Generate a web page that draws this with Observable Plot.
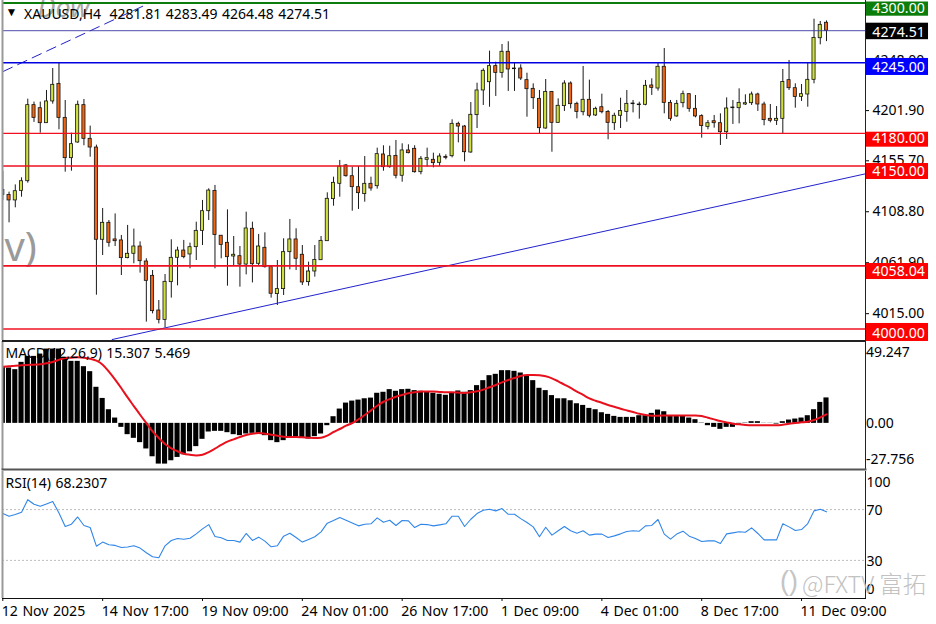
<!DOCTYPE html>
<html><head><meta charset="utf-8">
<script src="https://cdn.jsdelivr.net/npm/d3@7"></script>
<script src="https://cdn.jsdelivr.net/npm/@observablehq/plot@0.6"></script>
<style>
html,body{margin:0;padding:0;background:#fff;width:936px;height:624px;overflow:hidden}
#chart{position:relative;width:936px;height:624px;font-family:"Noto Sans",sans-serif}
#chart svg{position:absolute;left:0;background:transparent;max-width:none;word-spacing:0.8px}
#mark1{position:absolute;left:780px;top:563px;font-size:27px;color:#c4c4c4;line-height:36px;white-space:pre;font-family:"Liberation Sans",sans-serif}
#mark2{position:absolute;left:802px;top:565px;font-size:23.5px;color:#c2c2c2;line-height:36px;white-space:nowrap;font-family:"Noto Sans CJK SC","Noto Sans",sans-serif;font-weight:300}
</style></head><body><div id="chart"></div>
<script>
const open=[
4128.0,4123.4,4118.3,4127.1,4136.0,4206.0,4203.2,4189.4,4209.4,4225.6,
4194.3,4157.2,4171.6,4206.0,4175.0,4167.0,4082.1,4097.7,4082.4,4081.5,
4065.2,4069.2,4075.9,4062.1,4048.9,4017.0,4008.4,4043.1,4065.5,4072.2,
4068.6,4075.3,4090.3,4108.4,4127.1,4085.8,4079.3,4066.7,4067.0,4059.3,
4092.2,4060.0,4074.7,4056.9,4032.1,4036.7,4070.7,4082.4,4068.3,4043.1,
4052.9,4063.3,4080.8,4119.5,4133.6,4150.5,4140.6,4130.5,4124.1,4133.6,
4131.4,4160.6,4148.9,4159.3,4141.0,4164.3,4165.8,4144.3,4155.7,4155.7,
4152.9,4158.4,4159.0,4188.8,4186.3,4162.4,4196.8,4219.5,4227.1,4241.9,
4235.7,4255.1,4239.1,4239.7,4229.0,4221.0,4211.8,4184.5,4218.2,4189.7,
4205.1,4225.9,4207.2,4199.5,4210.9,4196.5,4204.1,4199.8,4189.4,4196.2,
4199.8,4206.9,4206.6,4206.3,4224.1,4221.3,4241.3,4208.1,4195.6,4207.8,
4216.1,4202.6,4195.9,4186.0,4191.2,4189.4,4181.1,4203.2,4203.2,4206.6,
4207.8,4215.8,4206.6,4193.4,4191.6,4193.4,4229.0,4221.6,4213.6,4215.8,
4229.3,4267.6,4281.81];
const close=[
4123.4,4118.3,4126.8,4136.0,4206.0,4194.3,4189.4,4209.4,4224.7,4194.3,
4157.2,4170.1,4206.3,4175.0,4167.0,4082.1,4097.7,4079.3,4080.8,4065.2,
4069.2,4075.9,4062.4,4044.3,4016.4,4008.4,4043.4,4065.5,4072.2,4066.1,
4075.3,4090.3,4108.4,4127.4,4086.4,4077.4,4066.1,4068.3,4059.3,4092.5,
4059.6,4075.9,4056.9,4032.4,4036.7,4070.7,4082.4,4064.6,4042.8,4052.9,
4063.6,4081.1,4119.8,4134.5,4149.5,4140.6,4130.5,4125.0,4133.6,4129.3,
4160.9,4148.9,4159.0,4141.0,4164.3,4161.8,4144.3,4156.6,4157.2,4152.6,
4158.7,4157.5,4188.8,4186.3,4162.7,4197.1,4219.5,4237.6,4241.9,4235.7,
4255.1,4238.8,4239.7,4230.5,4220.7,4212.4,4184.8,4218.2,4189.7,4205.4,
4225.9,4206.9,4199.8,4210.9,4196.2,4202.6,4199.5,4189.7,4196.2,4200.5,
4207.2,4207.5,4206.0,4223.8,4221.9,4241.3,4208.1,4193.4,4207.2,4216.1,
4202.6,4195.6,4186.7,4189.4,4189.4,4181.1,4202.9,4203.8,4208.1,4207.8,
4215.8,4206.6,4192.2,4191.6,4193.4,4227.4,4221.6,4213.6,4216.1,4229.3,
4267.9,4279.9,4274.51];
const high=[
4145.2,4125.9,4132.6,4139.1,4211.5,4208.8,4208.8,4219.5,4239.7,4244.9,
4210.3,4180.2,4209.7,4211.2,4186.7,4169.2,4110.9,4099.8,4105.9,4086.1,
4095.3,4091.9,4080.2,4064.6,4053.8,4026.2,4050.1,4082.1,4075.3,4081.5,
4079.0,4098.3,4118.3,4129.0,4132.1,4086.1,4109.6,4085.1,4075.9,4107.5,
4098.3,4087.0,4088.5,4057.8,4063.0,4083.0,4100.8,4092.2,4076.8,4061.5,
4076.8,4085.1,4125.3,4139.7,4155.1,4151.4,4148.9,4149.5,4158.7,4139.7,
4166.4,4168.6,4168.2,4173.5,4170.4,4169.5,4168.6,4158.7,4166.4,4161.8,
4161.2,4160.3,4192.5,4190.3,4187.3,4208.4,4226.2,4239.4,4255.7,4245.5,
4261.8,4264.3,4244.9,4243.1,4235.4,4225.6,4219.5,4229.6,4218.6,4211.8,
4228.4,4227.4,4208.7,4241.6,4229.0,4204.1,4216.1,4201.1,4198.6,4212.4,
4219.5,4210.3,4208.7,4228.7,4230.2,4244.6,4258.1,4210.3,4210.3,4218.9,
4216.4,4214.9,4197.1,4191.9,4196.5,4198.0,4212.7,4210.3,4221.0,4215.5,
4218.0,4217.0,4208.7,4206.6,4204.7,4238.8,4247.1,4225.6,4225.0,4244.6,
4285.1,4283.0,4283.49];
const low=[
4118.3,4097.7,4111.5,4121.3,4134.2,4190.1,4180.2,4189.4,4206.9,4183.3,
4144.3,4145.2,4171.0,4168.6,4158.1,4031.1,4067.6,4075.3,4075.9,4049.2,
4064.6,4060.0,4051.4,4006.3,4013.9,4004.7,4001.0,4028.4,4039.7,4064.6,
4055.4,4063.0,4076.8,4099.8,4055.4,4064.6,4039.4,4058.4,4038.5,4049.8,
4042.4,4058.4,4056.0,4028.4,4021.6,4030.8,4054.4,4053.8,4040.0,4039.4,
4047.7,4063.0,4080.8,4113.0,4121.3,4139.7,4108.4,4110.0,4116.7,4126.8,
4128.7,4145.2,4148.0,4138.2,4135.1,4161.2,4143.4,4141.9,4148.9,4148.3,
4149.5,4155.7,4157.5,4171.3,4153.8,4161.8,4184.5,4205.7,4204.1,4214.0,
4230.8,4218.6,4218.6,4228.7,4194.9,4202.0,4179.6,4183.9,4162.7,4189.4,
4200.2,4202.6,4193.4,4196.2,4194.3,4195.6,4198.0,4174.1,4182.7,4184.5,
4190.3,4198.9,4193.1,4205.4,4214.9,4218.9,4198.0,4191.2,4194.9,4203.5,
4199.5,4194.3,4175.6,4183.3,4184.8,4168.9,4174.4,4188.2,4188.8,4205.7,
4205.7,4200.2,4187.0,4189.7,4187.3,4179.6,4219.5,4203.2,4209.4,4204.1,
4225.6,4261.5,4264.48];
const macdHist=[
34.1,33.3,32.3,36.7,40.3,40.3,41.7,44.7,44.7,44.7,
39.7,37.3,37.3,34.1,31.1,21.7,15.0,8.2,3.2,-2.4,
-6.8,-9.0,-11.6,-15.4,-20.1,-24.5,-24.5,-22.5,-20.5,-18.9,
-17.1,-14.0,-9.6,-5.2,-4.8,-4.8,-5.6,-6.8,-7.4,-6.4,
-6.0,-6.0,-7.4,-10.4,-11.6,-10.4,-8.8,-8.0,-8.8,-9.4,
-8.0,-6.4,-1.4,4.0,8.6,12.2,13.4,14.0,14.8,15.2,
18.1,18.7,20.3,19.3,20.3,20.5,19.7,19.3,19.1,18.1,
17.5,16.9,18.1,19.5,18.7,19.7,22.7,25.7,28.7,29.5,
31.7,31.7,31.3,30.3,28.3,25.7,21.1,19.7,16.7,14.8,
14.8,13.6,11.8,10.8,9.0,8.2,6.4,5.4,4.2,3.6,
3.6,3.6,4.6,4.6,6.0,8.0,7.0,4.6,4.2,4.2,
3.2,2.2,0.2,-1.4,-2.4,-3.6,-2.4,-2.4,-0.4,0.2,
1.0,1.0,0.1,0.1,-0.4,1.0,2.0,2.6,3.2,4.6,
8.2,12.6,15.307];
const macdSignal=[
34.1,34.3,34.7,34.9,35.1,35.3,35.5,36.1,36.9,38.3,
39.3,39.5,39.7,39.5,38.9,37.7,35.3,31.1,26.3,21.1,
15.6,10.4,5.2,0.2,-4.8,-8.8,-12.4,-15.0,-16.8,-18.3,
-18.9,-19.3,-18.9,-17.3,-15.2,-13.0,-11.0,-9.6,-8.2,-7.0,
-6.2,-5.8,-6.2,-6.8,-7.4,-8.0,-8.2,-8.2,-8.4,-8.6,
-8.8,-8.6,-7.4,-5.2,-3.4,-1.4,0.2,2.4,5.0,7.8,
10.6,13.0,14.6,16.0,17.1,18.1,18.7,19.1,19.1,19.1,
18.9,18.7,18.7,18.5,18.3,18.7,19.3,20.3,21.7,23.1,
24.7,26.1,27.3,28.5,29.1,29.1,28.9,28.3,27.1,25.3,
23.3,21.3,19.1,17.1,15.0,13.6,12.4,11.0,10.0,8.8,
7.8,6.8,5.8,5.0,4.6,4.6,4.8,4.8,4.8,4.8,
4.8,4.8,4.4,3.4,2.4,1.4,0.6,-0.2,-0.6,-1.0,
-1.2,-1.2,-1.2,-1.2,-1.2,-0.8,-0.2,0.2,0.6,1.0,
2.0,3.6,5.469];
const rsi=[
66.9,64.8,66.1,67.9,77.8,74.2,72.6,74.4,76.3,67.4,
56.7,58.5,64.2,57.5,55.9,41.2,44.4,42.3,41.8,40.2,
40.5,41.5,39.7,36.0,32.9,32.1,41.5,45.7,47.3,46.7,
47.5,50.9,54.8,58.2,48.8,47.8,45.7,45.7,44.4,51.2,
45.7,48.3,45.2,40.7,41.5,49.1,51.4,48.0,44.4,46.5,
48.6,52.5,59.3,61.4,63.7,61.6,59.5,57.2,58.5,58.8,
63.5,60.1,61.6,57.5,61.4,61.1,55.9,58.5,58.2,57.2,
58.0,58.8,64.8,64.8,56.7,62.4,66.9,69.5,70.3,69.0,
70.8,66.3,66.3,62.9,59.8,56.4,48.6,56.1,49.9,53.3,
56.7,53.3,51.4,53.3,49.9,50.7,50.7,48.0,49.3,50.9,
52.7,53.3,53.0,57.2,57.5,62.2,50.7,46.7,50.7,53.0,
49.1,47.3,44.9,45.4,45.4,43.3,50.9,51.7,52.5,52.2,
55.6,51.2,46.2,46.2,46.2,58.8,56.4,53.5,54.3,59.0,
69.0,70.3,68.2307];
const priceTicks=[4248.0,4201.9,4155.7,4108.8,4061.9,4015.0];
const levelPrices=[4300,4274.51,4245,4180,4150,4058.04,4000];
const levelColors=["#0a7d0a","#000000","#0000ff","#ff0000","#ff0000","#ff0000","#ff0000"];
const trendBars=[17.53,138.25], trendPrices=[3990.3,4142.8];
const channelBars=[0.06,23.35], channelPrices=[4237,4299.5];
const timeTicks=[0,16,32,48,64,80,96,112,128];
const timeLabels=["12 Nov 2025","14 Nov 17:00","19 Nov 09:00","24 Nov 01:00","26 Nov 17:00","1 Dec 09:00","4 Dec 01:00","8 Dec 17:00","11 Dec 09:00"];
const macdTickLabels=["49.247","0.00","-27.756"];

const UP="#cfe03e", DOWN="#ee6614";
const FONT="'Noto Sans',sans-serif";
const idx=(d,i)=>i;
const candles=open.map((o,i)=>({i,o,c:close[i],h:high[i],l:low[i]}));
const base={width:936,marginLeft:2,marginRight:71,
  x:{type:"linear",domain:[-0.05,138.25],axis:null},
  style:{fontFamily:FONT,fontSize:"14px",color:"#000",background:"transparent"}};
const box={4300:[-1,13.2,5.8],4274.51:[-7.5,9,1.5],4245:[-4.3,12.7,5],4180:[-1.2,13.8,5.4],4150:[-2.5,13.5,5.5],4058.04:[-2.4,13.6,5.6],4000:[-5.5,12.5,4.8]};
const levelMarks=levelPrices.flatMap((p,k)=>{
  const [t,b,dy]=box[p];
  return [
    Plot.rect([p],{x1:()=>138.4,x2:()=>148.35,y1:d=>d,y2:d=>d,insetTop:t,insetBottom:-b,fill:levelColors[k],clip:false}),
    Plot.text([p],{x:()=>139.35,y:d=>d,dy,text:d=>d.toFixed(2),fill:"#fff",textAnchor:"start",fontSize:14.2})
  ];
});
const main=Plot.plot({...base,height:340,marginTop:0,marginBottom:0,
  y:{domain:[3989.4,4302.3],axis:null},
  color:{type:"identity"},
  marks:[
    Plot.axisY(priceTicks,{anchor:"right",tickSize:3,tickPadding:4,label:null,tickFormat:d=>d.toFixed(2),dy:1,fill:"#000"}),
    Plot.text(["Dow"],{frameAnchor:"top-left",dx:35,dy:-3,fontSize:27,fontStyle:"italic",fill:"#a8a8a8"}),
    Plot.text(["v)"],{frameAnchor:"top-left",dx:2,dy:232,fontSize:40,fill:"#9a9a9a"}),
    Plot.ruleX(candles,{x:"i",y1:"l",y2:"h",stroke:"#1a1a1a",strokeWidth:1,clip:true}),
    Plot.rect(candles,{x1:d=>d.i-.25,x2:d=>d.i+.25,y1:"o",y2:"c",fill:d=>d.c>=d.o?UP:DOWN,stroke:"#111",strokeWidth:.8,clip:true}),
    Plot.line(channelBars,{x:d=>d,y:(d,i)=>channelPrices[i],stroke:"#2020c8",strokeWidth:1,strokeDasharray:"10,6",clip:true}),
    Plot.line(trendBars,{x:d=>d,y:(d,i)=>trendPrices[i],stroke:"#2222cc",strokeWidth:1,clip:true}),
    Plot.ruleY([4274.51],{stroke:"#3a3aa6",strokeWidth:.9}),
    Plot.ruleY([4300],{stroke:"#0a7d0a",strokeWidth:2}),
    Plot.ruleY([4245],{stroke:"#0000e0",strokeWidth:1.3}),
    Plot.ruleY([4180,4000],{stroke:"#f01020",strokeWidth:1.3}),
    Plot.ruleY([4150,4058.04],{stroke:"#ee1020",strokeWidth:1.7}),
    Plot.ruleX([-0.05],{stroke:"#999",strokeWidth:2}),
    Plot.frame({anchor:"right",stroke:"#222"}),
    Plot.frame({anchor:"bottom",stroke:"#222"}),
    Plot.text(["▼"],{frameAnchor:"top-left",dx:3,dy:7,fontSize:12,fill:"#000"}),
    Plot.text(["XAUUSD,H4"],{frameAnchor:"top-left",dx:21.5,dy:9,fill:"#000"}),
    Plot.text(["4281.81 4283.49 4264.48 4274.51"],{frameAnchor:"top-left",dx:107,dy:9,fill:"#000"}),
    ...levelMarks
  ]});
const macd=Plot.plot({...base,height:130,marginTop:1,marginBottom:1,
  y:{domain:[-27.756,49.247],axis:null},
  marks:[
    Plot.rect(macdHist,{x1:(d,i)=>i-.41,x2:(d,i)=>i+.41,y1:()=>0,y2:d=>d,fill:"#000",clip:true}),
    Plot.line(macdSignal,{x:idx,y:d=>d,stroke:"#e8101c",strokeWidth:2,curve:"monotone-x"}),
    Plot.ruleX([-0.05],{stroke:"#999",strokeWidth:2}),
    Plot.frame({anchor:"right",stroke:"#222"}),
    Plot.frame({anchor:"top",stroke:"#222"}),
    Plot.frame({anchor:"bottom",stroke:"#555",strokeWidth:2}),
    Plot.axisY([49.247],{anchor:"right",tickSize:0,tickPadding:.5,label:null,tickFormat:()=>macdTickLabels[0],dy:10.7,fill:"#000"}),
    Plot.axisY([0],{anchor:"right",tickSize:0,tickPadding:.5,label:null,tickFormat:()=>macdTickLabels[1],fill:"#000"}),
    Plot.axisY([-27.756],{anchor:"right",tickSize:0,tickPadding:.5,label:null,tickFormat:()=>macdTickLabels[2],dy:-9.7,fill:"#000"}),
    Plot.text(["MACD(12,26,9) 15.307 5.469"],{frameAnchor:"top-left",dx:3,dy:7,fill:"#000"})
  ]});
const rsiPlot=Plot.plot({...base,height:154,marginTop:1,marginBottom:26,
  y:{domain:[0,100],axis:null},
  marks:[
    Plot.ruleY([70,30],{stroke:"#bdbdbd",strokeWidth:1,strokeDasharray:"2,2"}),
    Plot.line(rsi,{x:idx,y:d=>d,stroke:"#2f86e8",strokeWidth:1.1}),
    Plot.ruleX([-0.05],{stroke:"#999",strokeWidth:2}),
    Plot.frame({anchor:"right",stroke:"#222"}),
    Plot.frame({anchor:"bottom",stroke:"#111"}),
    Plot.axisY([100],{anchor:"right",tickSize:0,tickPadding:1,label:null,dy:10.7,fill:"#000"}),
    Plot.axisY([70],{anchor:"right",tickSize:0,tickPadding:1,label:null,dy:1.4,fill:"#000"}),
    Plot.axisY([30],{anchor:"right",tickSize:0,tickPadding:1,label:null,dy:.7,fill:"#000"}),
    Plot.axisY([0],{anchor:"right",tickSize:0,tickPadding:1,label:null,dy:-9,fill:"#000"}),
    Plot.axisX(timeTicks,{anchor:"bottom",tickSize:3,label:null,tickFormat:()=>"",stroke:"#111"}),
    Plot.text(timeTicks,{x:d=>d,y:()=>0,dy:12.7,dx:-1,text:(d,i)=>timeLabels[i],textAnchor:"start",fill:"#000",fontSize:14.1}),
    Plot.text(["RSI(14) 68.2307"],{frameAnchor:"top-left",dx:3,dy:7,fill:"#000"})
  ]});
const root=document.getElementById("chart");
[[rsiPlot,470,1],[macd,340,2],[main,0,3]].forEach(([s,t,z])=>{s.style.top=t+"px";s.style.zIndex=z;s.style.overflow="visible";root.appendChild(s);});
const w1=document.createElement("div");w1.id="mark2";w1.style.zIndex=5;w1.textContent="@FXTV 富拓";root.appendChild(w1);
const w0=document.createElement("div");w0.id="mark1";w0.style.zIndex=5;w0.textContent="()";root.appendChild(w0);
</script></body></html>
